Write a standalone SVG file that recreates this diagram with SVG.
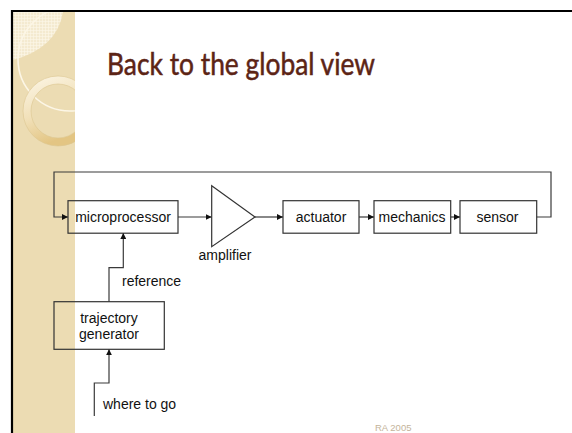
<svg xmlns="http://www.w3.org/2000/svg" width="572" height="433" viewBox="0 0 572 433">
<style>
.box{fill:none;stroke:#333;stroke-width:1.2}
.conn{fill:none;stroke:#3a3a3a;stroke-width:1.2}
.lbl{font-family:"Liberation Sans",Arial,sans-serif;font-size:14px;fill:#111}
.title{font-family:Lato,"Open Sans",sans-serif;font-size:30px;fill:#5c2415;stroke:#5c2415;stroke-width:0.5}
.foot{font-family:"Liberation Sans",Arial,sans-serif;font-size:9.5px;fill:#c4b49a}
</style>
<defs>
<marker id="arr" markerUnits="userSpaceOnUse" markerWidth="7" markerHeight="6" refX="6" refY="3" orient="auto">
<path d="M0,0 L6,3 L0,6 Z" fill="#111"/>
</marker>
<linearGradient id="ringg" x1="0" y1="0" x2="0.4" y2="1">
<stop offset="0" stop-color="#fbf4e2"/>
<stop offset="0.55" stop-color="#f1e0b8"/>
<stop offset="1" stop-color="#e3c583"/>
</linearGradient>
<clipPath id="side"><rect x="13" y="12" width="62" height="421"/></clipPath>
<pattern id="grid" width="3" height="3" patternUnits="userSpaceOnUse">
<rect width="3" height="3" fill="#f4ead0"/>
<path d="M0,0.5 H3 M0.5,0 V3" stroke="#fbf6ea" stroke-width="0.6"/>
</pattern>
</defs>
<rect width="572" height="433" fill="#fff"/>
<g id="sidebar">
<rect x="13" y="12" width="62" height="421" fill="#ecdcb3"/>
<g clip-path="url(#side)">
<path d="M13,12 L63,12 Q57,48 13,60 Z" fill="url(#grid)"/>
<circle cx="70" cy="59" r="52" fill="none" stroke="#fcf6e6" stroke-width="1.6"/>
<circle cx="58" cy="111" r="31" fill="none" stroke="url(#ringg)" stroke-width="8"/>
<circle cx="58" cy="111" r="35" fill="none" stroke="#dcc690" stroke-width="0.6"/>
<circle cx="58" cy="111" r="27" fill="none" stroke="#dcc690" stroke-width="0.6"/>
</g>
</g>
<path d="M12,433 V11 H572" fill="none" stroke="#000" stroke-width="2.2"/>
<text class="title" x="107" y="75" textLength="268" lengthAdjust="spacingAndGlyphs">Back to the global view</text>
<g id="connectors">
<path class="conn" d="M536.7,217 H551 V172 H54 V217 H68" marker-end="url(#arr)"/>
<path class="conn" d="M178,217 H211.7" marker-end="url(#arr)"/>
<path class="conn" d="M255,217 H283" marker-end="url(#arr)"/>
<path class="conn" d="M359,217 H374" marker-end="url(#arr)"/>
<path class="conn" d="M450.7,217 H460" marker-end="url(#arr)"/>
<path class="conn" d="M109,301.7 V267.7 H123.3 V233" marker-end="url(#arr)"/>
<path class="conn" d="M94.3,416 V383 H109 V349.3" marker-end="url(#arr)"/>
<text class="lbl" x="122" y="286">reference</text>
<text class="lbl" x="103" y="409">where to go</text>
</g>
<g id="microprocessor">
<rect class="box" x="68" y="200.7" width="110" height="32.5"/>
<text class="lbl" x="123" y="222" text-anchor="middle">microprocessor</text>
</g>
<g id="amplifier">
<path class="box" d="M211.7,185.7 L255,217 L211.7,246.7 Z"/>
<text class="lbl" x="225" y="260" text-anchor="middle">amplifier</text>
</g>
<g id="actuator">
<rect class="box" x="283" y="200.7" width="76" height="32.5"/>
<text class="lbl" x="321" y="222" text-anchor="middle">actuator</text>
</g>
<g id="mechanics">
<rect class="box" x="374" y="200.7" width="76.7" height="32.5"/>
<text class="lbl" x="412" y="222" text-anchor="middle">mechanics</text>
</g>
<g id="sensor">
<rect class="box" x="460" y="200.7" width="76.7" height="32.5"/>
<text class="lbl" x="497.5" y="222" text-anchor="middle">sensor</text>
</g>
<g id="trajectory">
<rect class="box" x="54" y="301.7" width="110.3" height="47.6"/>
<text class="lbl" x="109" y="323" text-anchor="middle">trajectory</text>
<text class="lbl" x="109" y="339" text-anchor="middle">generator</text>
</g>
<text class="foot" x="375" y="431">RA 2005</text>
</svg>
